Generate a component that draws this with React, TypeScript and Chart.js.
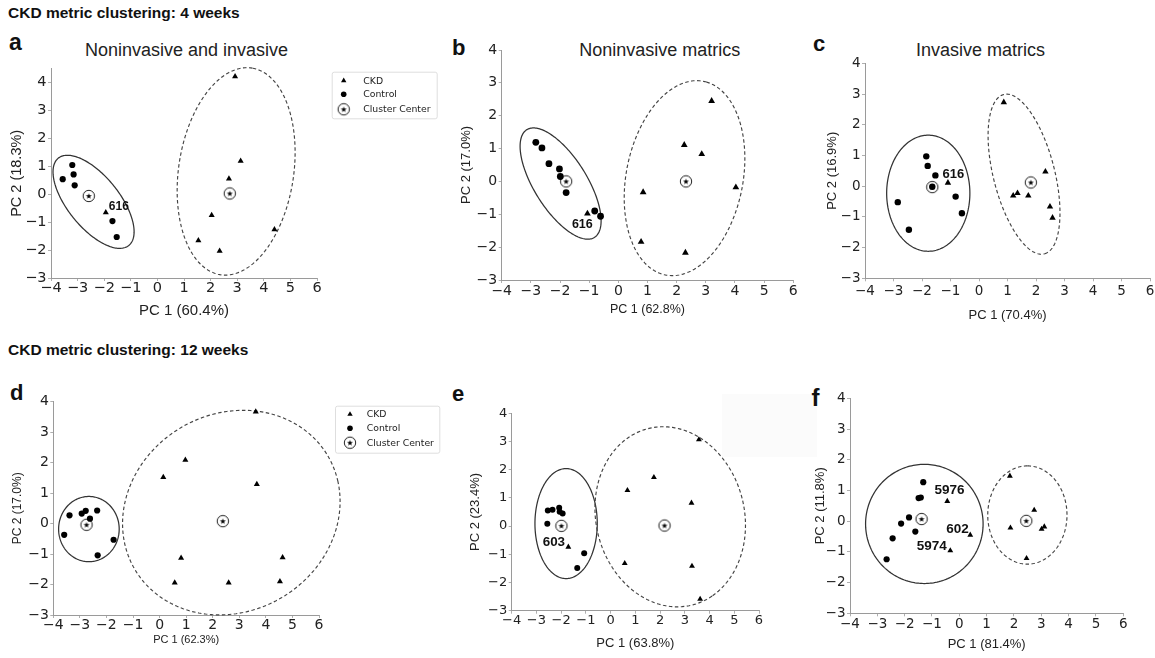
import React, { useEffect, useRef } from 'react';
import { Chart, registerables } from 'chart.js';
Chart.register(...registerables);

// ---------------- data (PC1, PC2) ----------------
const A_CONTROL = [[-3.56, 0.54], [-3.2, 1.05], [-3.15, 0.71], [-3.11, 0.32], [-1.69, -0.96], [-1.53, -1.53]];
const A_CKD = [[-1.94, -0.65], [2.92, 4.22], [3.13, 1.19], [2.69, 0.56], [2.04, -0.75], [1.54, -1.66], [2.34, -2.03], [4.4, -1.26]];
const A_CENTERS = [[-2.58, -0.06], [2.72, 0.03]];
const A_ELLIPSES = [[-2.4, -0.27, 2.05, 0.95, -49], [2.96, 0.82, 3.75, 2.16, 80.6]];

const B_CONTROL = [[-2.83, 1.19], [-2.62, 1.02], [-2.38, 0.54], [-2.02, 0.38], [-1.99, 0.15], [-1.79, -0.34], [-0.81, -0.9], [-0.61, -1.06]];
const B_CKD = [[-1.06, -0.98], [3.2, 2.45], [2.26, 1.11], [2.86, 0.83], [4.03, -0.18], [0.85, -0.33], [0.78, -1.84], [2.3, -2.17]];
const B_CENTERS = [[-1.79, 0.0], [2.32, 0.0]];
const B_ELLIPSES = [[-1.98, -0.065, 2.01, 0.87, -53.3], [2.27, 0.1, 3.02, 1.99, 75.6]];

const C_CONTROL = [[-1.85, 0.97], [-1.8, 0.66], [-1.53, 0.35], [-1.64, -0.02], [-0.82, -0.34], [-0.6, -0.88], [-2.85, -0.52], [-2.46, -1.42]];
const C_CKD = [[-1.09, 0.11], [0.87, 2.73], [2.33, 0.47], [1.2, -0.31], [1.35, -0.23], [1.73, -0.31], [2.49, -0.67], [2.58, -1.03]];
const C_CENTERS = [[-1.64, -0.03], [1.82, 0.12]];
const C_ELLIPSES = [[-1.78, -0.23, 1.89, 1.46, 90], [1.58, 0.39, 2.69, 1.07, -74.3]];

const D_CONTROL = [[-3.39, 0.27], [-3.59, -0.37], [-2.93, 0.33], [-2.78, 0.42], [-2.62, 0.16], [-2.35, 0.43], [-2.33, -1.04], [-1.73, -0.53]];
const D_CKD = [[3.62, 3.67], [0.97, 2.09], [0.14, 1.52], [3.66, 1.29], [0.81, -1.13], [4.63, -1.11], [0.57, -1.94], [2.6, -1.94], [4.53, -1.9]];
const D_CENTERS = [[-2.75, -0.04], [2.38, 0.08]];
const D_ELLIPSES = [[-2.66, -0.18, 1.14, 1.07, 0], [2.7, 0.36, 4.14, 3.3, 14.3]];

const E_CONTROL = [[-2.54, 0.55], [-2.35, 0.58], [-2.08, 0.65], [-2.06, 0.51], [-1.94, 0.45], [-2.56, 0.08], [-1.07, -0.96], [-1.35, -1.49]];
const E_CKD = [[-1.71, -0.74], [3.57, 3.07], [1.75, 1.73], [0.68, 1.27], [3.27, 0.82], [0.57, -1.32], [3.29, -1.42], [3.62, -2.59]];
const E_CENTERS = [[-1.99, 0.01], [2.18, 0.02]];
const E_ELLIPSES = [[-1.8, 0.09, 1.95, 1.26, 90], [2.41, 0.33, 3.28, 2.95, -58.5]];

const F_CONTROL = [[-1.32, 1.27], [-1.49, 0.75], [-1.41, 0.77], [-1.84, 0.12], [-2.13, -0.08], [-1.61, -0.34], [-2.44, -0.56], [-2.66, -1.24]];
const F_CKD = [[-0.44, 0.65], [0.4, -0.45], [-0.33, -0.96], [1.85, 1.47], [2.74, 0.36], [1.87, -0.22], [3.01, -0.26], [3.11, -0.18], [2.46, -1.21]];
const F_CENTERS = [[-1.38, 0.07], [2.45, 0.01]];
const F_ELLIPSES = [[-1.28, -0.09, 2.15, 1.94, 0], [2.49, 0.2, 1.6, 1.45, 90]];

const X_RANGE = [-4, 6];
const Y_RANGE = [-3, 4];
const SERIES_LABELS = ['CKD', 'Control', 'Cluster Center'];

// ---------------- helpers ----------------
const ARIAL = '"Liberation Sans", Arial, sans-serif';
const DEJAVU = '"DejaVu Sans", sans-serif';

function centerIcon(r: number, starR: number) {
  const size = Math.ceil(r * 2 + 4);
  const c = document.createElement('canvas');
  c.width = size;
  c.height = size;
  const ctx = c.getContext('2d')!;
  const m = size / 2;
  ctx.beginPath();
  ctx.arc(m, m, r, 0, Math.PI * 2);
  ctx.lineWidth = 1;
  ctx.strokeStyle = '#222';
  ctx.stroke();
  ctx.beginPath();
  for (let i = 0; i < 10; i++) {
    const rr = i % 2 === 0 ? starR : starR * 0.42;
    const a = -Math.PI / 2 + (i * Math.PI) / 5;
    const px = m + rr * Math.cos(a);
    const py = m + 0.3 + rr * Math.sin(a);
    if (i === 0) ctx.moveTo(px, py);
    else ctx.lineTo(px, py);
  }
  ctx.closePath();
  ctx.fillStyle = '#000';
  ctx.fill();
  return c;
}

const toPts = (arr: number[][]) => arr.map(([x, y]) => ({ x, y }));
const fmt = (v: any) => (v < 0 ? '\u2212' + Math.abs(v) : String(v));

type Tag = { text: string; at: number[]; dx: number; dy: number; align: CanvasTextAlign; size: number };

type PanelCfg = {
  control: number[][];
  ckd: number[][];
  centers: number[][];
  ellipses: number[][];
  yMax: number;
  plot: { left: number; right: number; top: number; bottom: number };
  xTitle: string; xTitleSize: number; xTitleY: number;
  yTitle: string; yTitleSize: number; yTitleX: number;
  tickSize: number; xTickPad: number;
  dotR: number; triR: number;
  tags: Tag[];
  legend?: { dx: number; dy: number; w: number; h: number; rows: number[]; mx: number; tx: number };
};

const PANELS: PanelCfg[] = [
  {
    control: A_CONTROL, ckd: A_CKD, centers: A_CENTERS, ellipses: A_ELLIPSES, yMax: 4.5,
    plot: { left: 51, right: 317, top: 68.7, bottom: 278 },
    xTitle: 'PC 1 (60.4%)', xTitleSize: 15, xTitleY: 310,
    yTitle: 'PC 2 (18.3%)', yTitleSize: 14.5, yTitleX: 17,
    tickSize: 14.5, xTickPad: 0, dotR: 3.1, triR: 3.5,
    tags: [{ text: '616', at: A_CKD[0], dx: 3, dy: -2.3, align: 'left', size: 12 }],
    legend: { dx: 14.7, dy: 3, w: 105, h: 46.6, rows: [9, 22.6, 37.6], mx: 12, tx: 31.6 },
  },
  {
    control: B_CONTROL, ckd: B_CKD, centers: B_CENTERS, ellipses: B_ELLIPSES, yMax: 4,
    plot: { left: 501.7, right: 793.3, top: 50, bottom: 280 },
    xTitle: 'PC 1 (62.8%)', xTitleSize: 12.5, xTitleY: 309.5,
    yTitle: 'PC 2 (17.0%)', yTitleSize: 13, yTitleX: 466.5,
    tickSize: 14, xTickPad: 1, dotR: 3.4, triR: 3.9,
    tags: [{ text: '616', at: B_CKD[0], dx: -5.1, dy: 14.3, align: 'center', size: 12.5 }],
  },
  {
    control: C_CONTROL, ckd: C_CKD, centers: C_CENTERS, ellipses: C_ELLIPSES, yMax: 4,
    plot: { left: 865, right: 1150, top: 63.3, bottom: 278.3 },
    xTitle: 'PC 1 (70.4%)', xTitleSize: 13, xTitleY: 315.5,
    yTitle: 'PC 2 (16.9%)', yTitleSize: 13, yTitleX: 832.5,
    tickSize: 13.5, xTickPad: 3.5, dotR: 3.2, triR: 3.7,
    tags: [{ text: '616', at: C_CKD[0], dx: 5.5, dy: -4.4, align: 'center', size: 13 }],
  },
  {
    control: D_CONTROL, ckd: D_CKD, centers: D_CENTERS, ellipses: D_ELLIPSES, yMax: 4,
    plot: { left: 53.3, right: 319, top: 401.7, bottom: 615 },
    xTitle: 'PC 1 (62.3%)', xTitleSize: 11, xTitleY: 639,
    yTitle: 'PC 2 (17.0%)', yTitleSize: 12, yTitleX: 18,
    tickSize: 14, xTickPad: 0, dotR: 3.1, triR: 3.5,
    tags: [],
    legend: { dx: 16, dy: 4, w: 104.3, h: 47, rows: [8.6, 22.6, 37], mx: 15, tx: 31.7 },
  },
  {
    control: E_CONTROL, ckd: E_CKD, centers: E_CENTERS, ellipses: E_ELLIPSES, yMax: 4,
    plot: { left: 511.7, right: 759, top: 413.3, bottom: 610.7 },
    xTitle: 'PC 1 (63.8%)', xTitleSize: 13, xTitleY: 643,
    yTitle: 'PC 2 (23.4%)', yTitleSize: 13, yTitleX: 475,
    tickSize: 13, xTickPad: 0, dotR: 3, triR: 3.4,
    tags: [{ text: '603', at: E_CKD[0], dx: -3.3, dy: -1, align: 'right', size: 13.4 }],
  },
  {
    control: F_CONTROL, ckd: F_CKD, centers: F_CENTERS, ellipses: F_ELLIPSES, yMax: 4,
    plot: { left: 850, right: 1123.3, top: 398.3, bottom: 613.3 },
    xTitle: 'PC 1 (81.4%)', xTitleSize: 13, xTitleY: 644.5,
    yTitle: 'PC 2 (11.8%)', yTitleSize: 13, yTitleX: 820,
    tickSize: 13.5, xTickPad: 1, dotR: 3.1, triR: 3.4,
    tags: [
      { text: '5976', at: F_CKD[0], dx: 2.2, dy: -7, align: 'center', size: 13.5 },
      { text: '602', at: F_CKD[1], dx: -1.6, dy: -2.4, align: 'right', size: 13.5 },
      { text: '5974', at: F_CKD[2], dx: -3.6, dy: -0.3, align: 'right', size: 13.5 },
    ],
  },
];

function geometry(p: PanelCfg) {
  const left = Math.round(p.yTitleX - p.yTitleSize / 2);
  const top = Math.round(p.plot.top - 12);
  const bottom = Math.round(p.xTitleY + p.xTitleSize / 2);
  let right = p.plot.right + 10;
  if (p.legend) right = Math.max(right, p.plot.right + p.legend.dx + p.legend.w + 4);
  right = Math.round(right);
  return {
    left, top, w: right - left, h: bottom - top,
    yW: p.plot.left - left, xH: bottom - p.plot.bottom,
    padTop: p.plot.top - top, padRight: right - p.plot.right,
  };
}

function Panel({ p }: { p: PanelCfg }) {
  const ref = useRef<HTMLCanvasElement>(null);
  const g = geometry(p);
  useEffect(() => {
    const icon = centerIcon(5.7, 3.1);
    const axisCommon = (title: string, tsize: number) => ({
      type: 'linear' as const,
      grid: { drawOnChartArea: false, drawTicks: true, tickLength: 3, color: '#9a9a9a', lineWidth: 0.8 },
      border: { display: true, color: '#9a9a9a', width: 1 },
      title: { display: true, text: title, color: '#222', padding: 0, font: { family: ARIAL, size: tsize, lineHeight: 1 } },
    });
    const ellipsePlugin = {
      id: 'clusterEllipses',
      beforeDatasetsDraw(chart: any) {
        const xs = chart.scales.x, ys = chart.scales.y, ctx = chart.ctx;
        p.ellipses.forEach((e, k) => {
          const [cx, cy, a, b, deg] = e;
          const th = (deg * Math.PI) / 180;
          ctx.save();
          ctx.beginPath();
          for (let i = 0; i <= 200; i++) {
            const t = (i / 200) * Math.PI * 2;
            const x = cx + a * Math.cos(t) * Math.cos(th) - b * Math.sin(t) * Math.sin(th);
            const y = cy + a * Math.cos(t) * Math.sin(th) + b * Math.sin(t) * Math.cos(th);
            const px = xs.getPixelForValue(x), py = ys.getPixelForValue(y);
            if (i === 0) ctx.moveTo(px, py); else ctx.lineTo(px, py);
          }
          ctx.closePath();
          if (k === 0) { ctx.setLineDash([]); ctx.strokeStyle = '#333'; ctx.lineWidth = 1.25; }
          else { ctx.setLineDash([3.5, 2.5]); ctx.strokeStyle = '#444'; ctx.lineWidth = 1.15; }
          ctx.stroke();
          ctx.restore();
        });
      },
    };
    const tagPlugin = {
      id: 'sampleTags',
      afterDatasetsDraw(chart: any) {
        const xs = chart.scales.x, ys = chart.scales.y, ctx = chart.ctx;
        p.tags.forEach((t) => {
          ctx.save();
          ctx.font = `bold ${t.size}px ${ARIAL}`;
          ctx.fillStyle = '#111';
          ctx.textAlign = t.align;
          ctx.textBaseline = 'alphabetic';
          ctx.fillText(t.text, xs.getPixelForValue(t.at[0]) + t.dx, ys.getPixelForValue(t.at[1]) + t.dy);
          ctx.restore();
        });
      },
    };
    const legendPlugin = {
      id: 'mplLegend',
      afterDraw(chart: any) {
        const L = p.legend;
        if (!L) return;
        const ctx = chart.ctx, ca = chart.chartArea;
        const bx = ca.right + L.dx, by = ca.top + L.dy;
        ctx.save();
        ctx.beginPath();
        ctx.roundRect(bx + 0.5, by + 0.5, L.w, L.h, 2);
        ctx.fillStyle = '#fff';
        ctx.fill();
        ctx.strokeStyle = '#d6d6d6';
        ctx.lineWidth = 0.8;
        ctx.stroke();
        ctx.font = `9.3px ${DEJAVU}`;
        ctx.textBaseline = 'middle';
        ctx.textAlign = 'left';
        const datasets = chart.data.datasets;
        L.rows.forEach((ry: number, i: number) => {
          const mx = bx + L.mx, my = by + ry;
          const ds = datasets[i];
          ctx.fillStyle = '#000';
          if (ds.pointStyle === 'triangle') {
            const r = 3.1;
            ctx.beginPath();
            ctx.moveTo(mx, my - r);
            ctx.lineTo(mx + r * 0.866, my + r * 0.5);
            ctx.lineTo(mx - r * 0.866, my + r * 0.5);
            ctx.closePath();
            ctx.fill();
          } else if (ds.pointStyle === 'circle') {
            ctx.beginPath();
            ctx.arc(mx, my, 2.8, 0, Math.PI * 2);
            ctx.fill();
          } else {
            ctx.drawImage(icon, mx - icon.width / 2, my - icon.height / 2);
          }
          ctx.fillStyle = '#222';
          ctx.fillText(ds.label, bx + L.tx, my + 0.5);
        });
        ctx.restore();
      },
    };
    const chart = new Chart(ref.current!, {
      type: 'scatter',
      data: {
        datasets: [
          { label: SERIES_LABELS[0], data: toPts(p.ckd), pointStyle: 'triangle', pointRadius: p.triR, backgroundColor: '#000', borderColor: '#000', borderWidth: 0, clip: false as any },
          { label: SERIES_LABELS[1], data: toPts(p.control), pointStyle: 'circle', pointRadius: p.dotR, backgroundColor: '#000', borderColor: '#000', borderWidth: 0, clip: false as any },
          { label: SERIES_LABELS[2], data: toPts(p.centers), pointStyle: icon as any, pointRadius: 6, backgroundColor: 'rgba(0,0,0,0)', borderColor: '#000', borderWidth: 0, clip: false as any },
        ],
      },
      options: {
        responsive: false,
        animation: false,
        devicePixelRatio: 1,
        events: [],
        layout: { padding: { left: 0, top: g.padTop, right: g.padRight, bottom: 0 } },
        plugins: { legend: { display: false }, tooltip: { enabled: false } },
        scales: {
          x: {
            ...axisCommon(p.xTitle, p.xTitleSize),
            min: X_RANGE[0], max: X_RANGE[1],
            afterFit: (s: any) => { s.height = g.xH; },
            ticks: { stepSize: 1, includeBounds: false, autoSkip: false, maxRotation: 0, padding: p.xTickPad, color: '#222', font: { family: DEJAVU, size: p.tickSize, lineHeight: 1 }, callback: fmt },
          },
          y: {
            ...axisCommon(p.yTitle, p.yTitleSize),
            min: Y_RANGE[0], max: p.yMax,
            afterFit: (s: any) => { s.width = g.yW; },
            ticks: { stepSize: 1, includeBounds: false, autoSkip: false, padding: 1.5, color: '#222', font: { family: DEJAVU, size: p.tickSize, lineHeight: 1 }, callback: fmt },
          },
        },
      } as any,
      plugins: [ellipsePlugin, tagPlugin, legendPlugin],
    });
    return () => chart.destroy();
  }, []);
  return (
    <canvas
      ref={ref}
      width={g.w}
      height={g.h}
      style={{ position: 'absolute', left: g.left, top: g.top, width: g.w, height: g.h }}
    />
  );
}

function Txt({ x, base, size, bold, children }: { x: number; base: number; size: number; bold?: boolean; children: React.ReactNode }) {
  return (
    <div
      style={{
        position: 'absolute', left: x, top: base - 0.8465 * size, fontFamily: ARIAL, fontSize: size,
        fontWeight: bold ? 700 : 400, lineHeight: 1, color: bold ? '#111' : '#222', whiteSpace: 'nowrap',
      }}
    >
      {children}
    </div>
  );
}

export default function App() {
  return (
    <div style={{ position: 'absolute', left: 0, top: 0, width: 1155, height: 658, overflow: 'hidden', background: '#fff' }}>
      <div style={{ position: 'absolute', left: 722, top: 394, width: 95, height: 63, background: '#fbfbfb' }} />
      <Txt x={8} base={18} size={15.5} bold>CKD metric clustering: 4 weeks</Txt>
      <Txt x={8} base={355} size={15.5} bold>CKD metric clustering: 12 weeks</Txt>
      <Txt x={9} base={50} size={23} bold>a</Txt>
      <Txt x={452} base={55.5} size={22} bold>b</Txt>
      <Txt x={813} base={52} size={22} bold>c</Txt>
      <Txt x={10} base={401} size={22} bold>d</Txt>
      <Txt x={452} base={401.5} size={22} bold>e</Txt>
      <Txt x={811.5} base={406} size={24} bold>f</Txt>
      <Txt x={85} base={56.7} size={18}>Noninvasive and invasive</Txt>
      <Txt x={579.3} base={56.7} size={18}>Noninvasive matrics</Txt>
      <Txt x={916} base={56.7} size={18}>Invasive matrics</Txt>
      {PANELS.map((p, i) => (
        <Panel key={i} p={p} />
      ))}
    </div>
  );
}
